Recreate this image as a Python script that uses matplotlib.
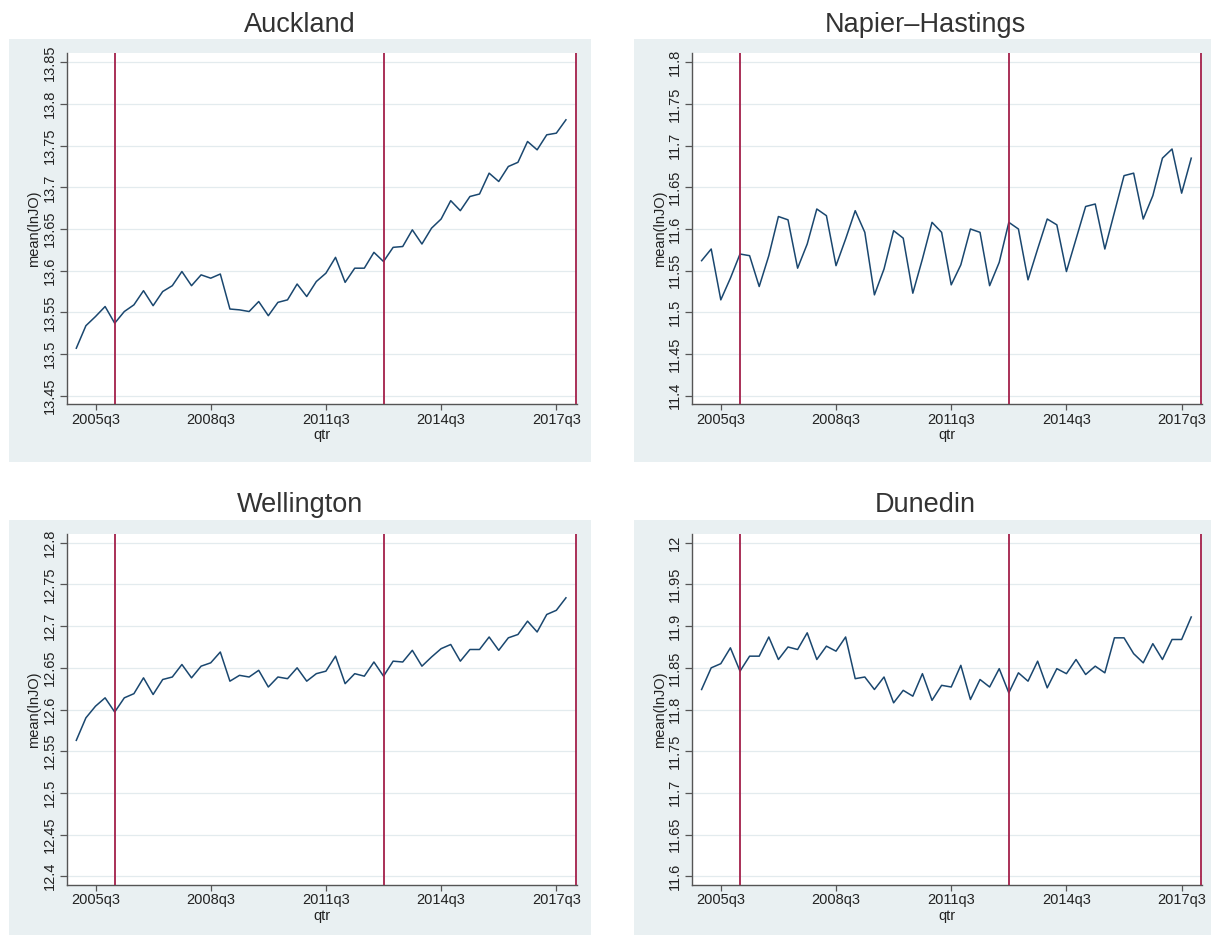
import numpy as np
import matplotlib
matplotlib.use("Agg")
import matplotlib.pyplot as plt
from matplotlib.patches import Rectangle

plt.rcParams["font.family"] = ["Liberation Sans", "DejaVu Sans"]

START_QTR = "2005q1"
TICK_QTRS = ["2005q3", "2008q3", "2011q3", "2014q3", "2017q3"]
EVENT_QTRS = ["2006q1", "2013q1", "2018q1"]

REGIONS = ["Auckland", "Napier\u2013Hastings", "Wellington", "Dunedin"]
Y_RANGES = [(13.45, 13.85), (11.4, 11.8), (12.4, 12.8), (11.6, 12.0)]

auckland = [13.507, 13.534, 13.545, 13.557, 13.537, 13.551, 13.559, 13.576,
            13.558, 13.575, 13.582, 13.599, 13.582, 13.595, 13.591, 13.596,
            13.554, 13.553, 13.551, 13.563, 13.546, 13.562, 13.565, 13.584,
            13.569, 13.587, 13.597, 13.616, 13.586, 13.603, 13.603, 13.622,
            13.611, 13.628, 13.629, 13.649, 13.632, 13.651, 13.662, 13.684,
            13.672, 13.689, 13.692, 13.717, 13.707, 13.725, 13.730, 13.755,
            13.745, 13.763, 13.765, 13.781]

napier = [11.562, 11.576, 11.515, 11.541, 11.570, 11.568, 11.531, 11.568,
          11.615, 11.611, 11.553, 11.582, 11.624, 11.616, 11.556, 11.588,
          11.622, 11.596, 11.521, 11.552, 11.598, 11.589, 11.523, 11.564,
          11.608, 11.596, 11.533, 11.557, 11.600, 11.596, 11.532, 11.560,
          11.608, 11.600, 11.539, 11.576, 11.612, 11.605, 11.549, 11.588,
          11.627, 11.630, 11.576, 11.620, 11.664, 11.667, 11.612, 11.640,
          11.685, 11.696, 11.643, 11.685]

wellington = [12.563, 12.590, 12.604, 12.614, 12.597, 12.614, 12.619, 12.638,
              12.618, 12.636, 12.639, 12.654, 12.638, 12.652, 12.656, 12.669,
              12.634, 12.641, 12.639, 12.647, 12.627, 12.639, 12.637, 12.650,
              12.634, 12.643, 12.646, 12.664, 12.631, 12.643, 12.640, 12.657,
              12.640, 12.658, 12.657, 12.671, 12.652, 12.663, 12.673, 12.678,
              12.658, 12.672, 12.672, 12.687, 12.671, 12.686, 12.690, 12.706,
              12.693, 12.714, 12.719, 12.734]

dunedin = [11.824, 11.850, 11.855, 11.874, 11.846, 11.864, 11.864, 11.887,
           11.860, 11.875, 11.872, 11.892, 11.860, 11.876, 11.870, 11.887,
           11.837, 11.839, 11.824, 11.839, 11.808, 11.823, 11.816, 11.843,
           11.811, 11.829, 11.827, 11.853, 11.812, 11.836, 11.827, 11.849,
           11.820, 11.844, 11.834, 11.858, 11.826, 11.849, 11.843, 11.860,
           11.842, 11.852, 11.844, 11.886, 11.886, 11.867, 11.856, 11.879,
           11.860, 11.884, 11.884, 11.911]

SERIES = [auckland, napier, wellington, dunedin]

LINE_COLOR = "#1a476f"
EVENT_COLOR = "#a3204a"
REGION_BG = "#e9f0f2"
GRID_COLOR = "#e3ebee"
AXIS_COLOR = "#555555"

W, H = 1211, 935


def qnum(s):
    year, q = s.split("q")
    return (int(year) - 1960) * 4 + int(q) - 1


def fig_rect(x0, y0, x1, y1):
    # pixel box (top-down) -> figure fraction
    return [x0 / W, 1 - y1 / H, (x1 - x0) / W, (y1 - y0) / H]


fig = plt.figure(figsize=(W / 100, H / 100), dpi=100)
fig.patch.set_facecolor("white")

col_dx = [0, 625.3]
row_dy = [0, 480.5]

x_start = qnum(START_QTR)
ticks = [qnum(t) for t in TICK_QTRS]
events = [qnum(e) for e in EVENT_QTRS]

for i, (name, values, (lo, hi)) in enumerate(zip(REGIONS, SERIES, Y_RANGES)):
    dx = col_dx[i % 2]
    dy = row_dy[i // 2]

    fig.add_artist(Rectangle(fig_rect(9 + dx, 39 + dy, 591 + dx, 462 + dy)[:2],
                             582 / W, 423 / H, transform=fig.transFigure,
                             facecolor=REGION_BG, edgecolor="none", zorder=0))
    fig.text((300 + dx) / W, 1 - (25 + dy) / H, name, ha="center", va="center",
             fontsize=19.5, color="#333333")

    ax = fig.add_axes(fig_rect(66.7 + dx, 53.3 + dy, 576.5 + dx, 404.3 + dy))
    ax.set_facecolor("white")

    x = np.arange(x_start, x_start + len(values))
    ax.plot(x, values, color=LINE_COLOR, lw=1.1, zorder=3)
    for e in events:
        ax.axvline(e, color=EVENT_COLOR, lw=1.3, zorder=4)

    ax.set_xlim(179, 232.1)
    ax.set_ylim(lo - 0.0103, hi + 0.0108)

    yt = np.round(np.arange(lo, hi + 0.001, 0.05), 2)
    ax.set_yticks(yt)
    ax.set_yticklabels([f"{v:g}" for v in yt], rotation=90, va="center")
    ax.set_xticks(ticks)
    ax.set_xticklabels(TICK_QTRS)
    ax.grid(axis="y", color=GRID_COLOR, lw=0.9, zorder=1)

    for side in ["top", "right"]:
        ax.spines[side].set_visible(False)
    for side in ["left", "bottom"]:
        ax.spines[side].set_color(AXIS_COLOR)
        ax.spines[side].set_linewidth(1.0)

    ax.tick_params(axis="x", length=4, width=0.9, color=AXIS_COLOR,
                   labelsize=10.5, pad=2, labelcolor="#222222")
    ax.tick_params(axis="y", length=4.7, width=0.9, color=AXIS_COLOR,
                   labelsize=10.5, pad=2.5, labelcolor="#222222")
    ax.set_xlabel("qtr", fontsize=10.5, labelpad=1, color="#222222")
    ax.set_ylabel("mean(lnJO)", fontsize=10.5, labelpad=1, color="#222222")

fig.savefig("out.png", dpi=100)
